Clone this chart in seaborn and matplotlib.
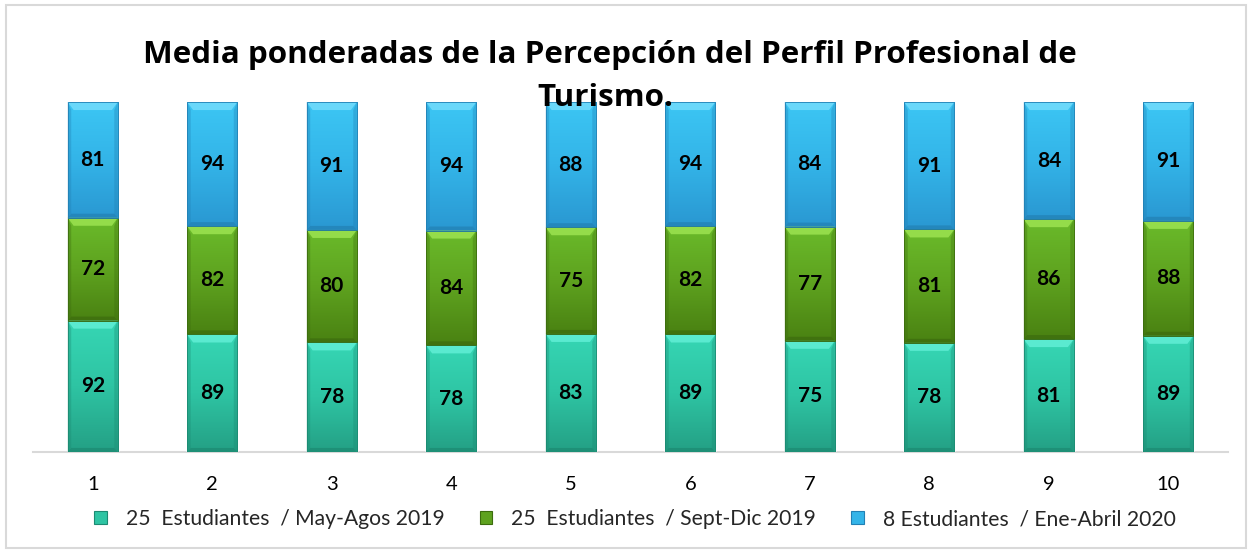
import numpy as np
import pandas as pd
import matplotlib
matplotlib.use("Agg")
import matplotlib.pyplot as plt
from matplotlib.patches import Patch, Polygon, Rectangle
from matplotlib.colors import LinearSegmentedColormap
import seaborn as sns

# ---- data ----
grupos = ["1", "2", "3", "4", "5", "6", "7", "8", "9", "10"]
may_agos_2019 = [92, 89, 78, 78, 83, 89, 75, 78, 81, 89]
sept_dic_2019 = [72, 82, 80, 84, 75, 82, 77, 81, 86, 88]
ene_abril_2020 = [81, 94, 91, 94, 88, 94, 84, 91, 84, 91]
series_labels = [
    "25  Estudiantes  / May-Agos 2019",
    "25  Estudiantes  / Sept-Dic 2019",
    "8 Estudiantes  / Ene-Abril 2020",
]
titulo = "Media ponderadas de la Percepción del Perfil Profesional de\nTurismo."

# ---- style ----
sns.set_theme(style="white")
plt.rcParams["font.family"] = ["Lato", "DejaVu Sans"]

colors_body = ["#2ec4a3", "#5ea21f", "#33b4e8"]
colors_top = ["#36d6b4", "#6aba2a", "#3cc6f4"]
colors_bottom = ["#24a085", "#4a8212", "#2a98d2"]
colors_light = ["#5aead0", "#94dc4a", "#6ad8fa"]
colors_edge = ["#1c8a72", "#3c6c0e", "#2280b4"]

# 100% stacked: convert each column to shares
vals = np.array([may_agos_2019, sept_dic_2019, ene_abril_2020], dtype=float)
shares = vals / vals.sum(axis=0) * 100
cum = np.cumsum(shares, axis=0)
bottoms = np.vstack([np.zeros(len(grupos)), cum[:-1]])

df = pd.DataFrame({"grupo": grupos})
for k in range(3):
    df[f"top{k}"] = cum[k]

fig = plt.figure(figsize=(12.5, 5.53), dpi=100)
ax = fig.add_axes([33 / 1250, 1 - 452 / 553, 1195 / 1250, 350 / 553])

bar_w = 0.42
# draw cumulative tops from highest to lowest so each segment shows
for k in [2, 1, 0]:
    sns.barplot(data=df, x="grupo", y=f"top{k}", color=colors_body[k],
                width=bar_w, saturation=1, ax=ax, zorder=2)

ax.set_xlim(-0.5, len(grupos) - 0.5)
ax.set_ylim(0, 100)

# bevel / gradient styling per segment, derived from the bar geometry
dx = 0.05
dy = 2.3
for k in range(3):
    cmap = LinearSegmentedColormap.from_list(
        f"g{k}", [colors_bottom[k], colors_body[k], colors_top[k]])
    grad = np.linspace(0, 1, 64).reshape(-1, 1)
    for i in range(len(grupos)):
        x0 = i - bar_w / 2
        x1 = i + bar_w / 2
        y0 = bottoms[k, i]
        y1 = cum[k, i]
        ax.imshow(grad, extent=(x0, x1, y0, y1), origin="lower",
                  cmap=cmap, aspect="auto", zorder=3, interpolation="bilinear")
        # top highlight bevel
        ax.add_patch(Polygon([(x0, y1), (x1, y1), (x1 - dx, y1 - dy), (x0 + dx, y1 - dy)],
                             closed=True, facecolor=colors_light[k], edgecolor="none", zorder=4))
        # bottom shadow bevel
        ax.add_patch(Polygon([(x0, y0), (x1, y0), (x1 - dx * 0.6, y0 + dy * 0.5), (x0 + dx * 0.6, y0 + dy * 0.5)],
                             closed=True, facecolor=colors_edge[k], alpha=0.7, edgecolor="none", zorder=4))
        # side shading
        ax.add_patch(Polygon([(x0, y0), (x0, y1), (x0 + dx * 0.6, y1 - dy), (x0 + dx * 0.6, y0 + dy * 0.5)],
                             closed=True, facecolor=colors_edge[k], alpha=0.35, edgecolor="none", zorder=4))
        ax.add_patch(Polygon([(x1, y0), (x1, y1), (x1 - dx * 0.6, y1 - dy), (x1 - dx * 0.6, y0 + dy * 0.5)],
                             closed=True, facecolor=colors_edge[k], alpha=0.35, edgecolor="none", zorder=4))
        ax.add_patch(Rectangle((x0, y0), bar_w, y1 - y0, facecolor="none",
                               edgecolor=colors_edge[k], linewidth=0.6, zorder=5))
        ax.text(i, (y0 + y1) / 2, f"{int(vals[k, i])}", ha="center", va="center",
                fontsize=15, fontweight="bold", color="black", zorder=6)

ax.set_xlim(-0.5, len(grupos) - 0.5)
ax.set_ylim(0, 100)
ax.set_xlabel("")
ax.set_ylabel("")
ax.set_yticks([])
for s in ["top", "left", "right"]:
    ax.spines[s].set_visible(False)
ax.spines["bottom"].set_color("#d9d9d9")
ax.spines["bottom"].set_linewidth(1.5)
ax.spines["bottom"].set_zorder(1)
ax.tick_params(axis="x", length=0, pad=17, labelsize=14.5, labelcolor="black")

# title (drawn above the bars)
linea1, linea2 = titulo.split("\n")
fig.text(0.488, 1 - 55 / 553, linea1, ha="center", va="center",
         fontsize=22.6, fontweight="bold", color="black", family=["Open Sans", "DejaVu Sans"],
         zorder=10)
fig.text(0.484, 1 - 98 / 553, linea2, ha="center", va="center",
         fontsize=22.6, fontweight="bold", color="black", family=["Open Sans", "DejaVu Sans"],
         zorder=10)

# legend
handles = [Patch(facecolor=colors_body[k], edgecolor=colors_edge[k], linewidth=0.8)
           for k in range(3)]
fig.legend(handles, series_labels, loc="center", bbox_to_anchor=(0.508, 1 - 519 / 553),
           ncol=3, frameon=False, fontsize=15.2, handlelength=0.6, handleheight=0.6,
           handletextpad=0.9, columnspacing=1.65)

# outer frame
fig.add_artist(Rectangle((6 / 1250, 5 / 553), 1240 / 1250, 543 / 553,
                         transform=fig.transFigure, facecolor="none",
                         edgecolor="#d9d9d9", linewidth=1.5))

fig.savefig("out.png", dpi=100)
